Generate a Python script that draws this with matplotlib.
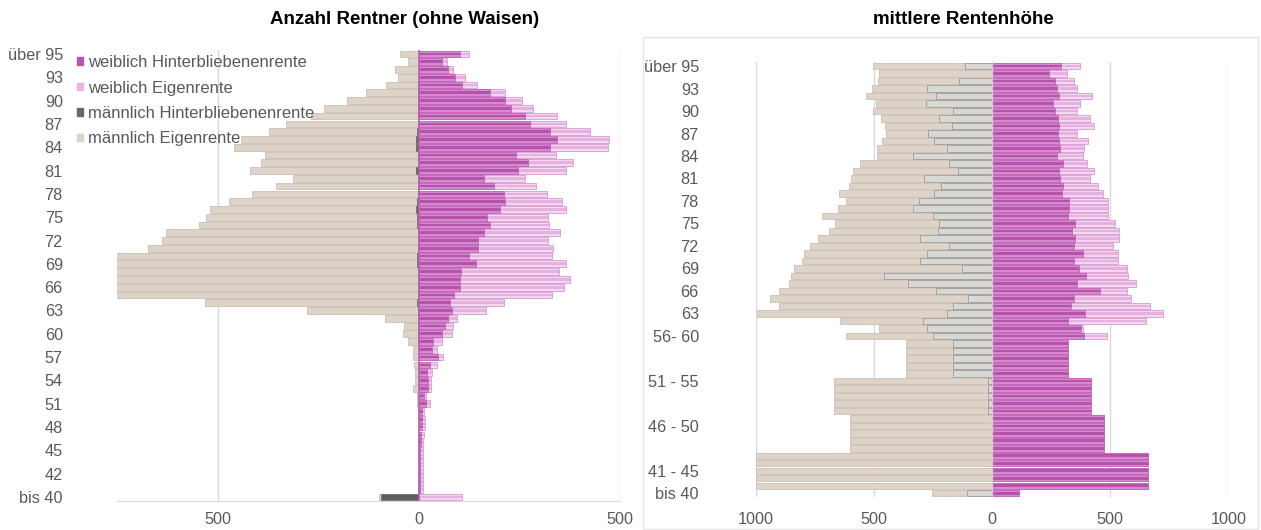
import numpy as np
import matplotlib.pyplot as plt
from matplotlib.patches import Patch, Rectangle

plt.rcParams['font.family'] = ['Liberation Sans', 'DejaVu Sans']

# Kategorien (von oben nach unten): über 95, 95 ... 40, bis 40  -> 58 Zeilen
N_CAT = 58
left_ticklabels = ['bis 40'] + [str(a) for a in range(42, 94, 3)] + ['über 95']
right_ticklabels = ['bis 40', '41 - 45', '', '46 - 50', '', '51 - 55', '',
                    '56- 60'] + [str(a) for a in range(63, 94, 3)] + ['über 95']

# ---- Anzahl Rentner (Werte von oben "über 95" nach unten "bis 40") ----
anz_m_eigen = [47, 27, 60, 52, 81, 131, 178, 235, 268, 331, 372, 442, 460, 381, 393,
               420, 312, 356, 414, 471, 520, 529, 545, 628, 639, 672, 800, 830, 860, 880,
               850, 820, 532, 277, 85, 37, 39, 26, 14, 14, 12, 10, 10, 14, 4, 4, 2, 1,
               1, 1, 1, 1, 1, 1, 1, 1, 1, 100]
anz_m_hinterbl = [0, 0, 0, 0, 1, 3, 3, 2, 2, 3, 5, 8, 8, 3, 3, 6, 3, 3, 3, 4, 8, 5, 4,
                  3, 3, 3, 4, 4, 3, 3, 3, 3, 4, 3, 2, 1, 1, 1, 0, 0, 0, 0, 0, 0, 0, 0,
                  0, 0, 0, 0, 0, 0, 0, 0, 0, 0, 0, 94]
anz_w_hinterbl = [102, 57, 72, 90, 107, 178, 215, 230, 265, 277, 327, 344, 327, 242, 272,
                  247, 161, 188, 211, 213, 201, 169, 178, 161, 147, 147, 125, 142, 105, 102,
                  102, 87, 77, 82, 73, 65, 58, 36, 34, 47, 29, 20, 23, 23, 13, 18, 8, 8,
                  8, 6, 5, 4, 4, 4, 4, 4, 4, 0]
anz_w_eigen = [125, 69, 86, 115, 144, 213, 257, 283, 344, 365, 425, 472, 469, 340, 383,
               365, 265, 292, 319, 355, 365, 322, 323, 351, 321, 333, 330, 367, 348, 375,
               361, 330, 211, 167, 94, 84, 82, 57, 44, 59, 44, 34, 31, 31, 18, 27, 13, 15,
               15, 13, 11, 10, 10, 10, 10, 10, 10, 107]

# ---- mittlere Rentenhöhe ----
hoehe_m_eigen = [502, 480, 484, 508, 533, 491, 502, 470, 451, 449, 465, 487, 487, 559, 587,
                 597, 604, 646, 618, 653, 719, 663, 691, 738, 770, 794, 804, 836, 850, 858,
                 903, 939, 900, 996, 643, 480, 618,
                 366, 366, 366, 366, 366, 668, 668, 668, 668, 668, 601, 601, 601, 601, 601,
                 1000, 1000, 1000, 1000, 1000, 253]
hoehe_m_hinterbl = [114, 0, 141, 276, 237, 279, 166, 226, 171, 272, 247, 192, 336, 181, 145,
                    289, 216, 247, 307, 336, 251, 226, 230, 305, 181, 276, 305, 127, 456, 357,
                    237, 103, 166, 190, 293, 276, 251,
                    166, 166, 166, 166, 166, 15, 15, 15, 15, 15, 0, 0, 0, 0, 0,
                    0, 0, 0, 0, 0, 104]
hoehe_w_hinterbl = [292, 243, 268, 274, 285, 260, 268, 278, 282, 278, 285, 288, 274, 299, 285,
                    288, 299, 296, 324, 327, 320, 353, 339, 353, 348, 386, 348, 367, 398, 360,
                    457, 348, 334, 395, 320, 377, 391,
                    322, 322, 322, 322, 322, 418, 418, 418, 418, 418, 473, 473, 473, 473, 473,
                    662, 662, 662, 662, 662, 114]
hoehe_w_eigen = [372, 317, 346, 360, 422, 372, 360, 415, 433, 360, 405, 388, 386, 401, 430,
                 415, 450, 471, 489, 489, 492, 522, 539, 539, 511, 532, 532, 570, 574, 609,
                 571, 588, 670, 722, 652, 386, 485,
                 322, 322, 322, 322, 322, 418, 418, 418, 418, 418, 473, 473, 473, 473, 473,
                 662, 662, 662, 662, 662, 0]

TXT = '#595959'
BEIGE, BEIGE_EDGE = '#DDD3C9', '#CFC5BB'
MAG, MAG_IN, MAG_EDGE = '#D48ACD', '#B752AC', '#C46BBB'
PINK, PINK_IN, PINK_EDGE = '#F3D6F0', '#E6B1E1', '#DCA4D6'
GRID = '#D9D9D9'


def bars(ax, vals, fill, edge, inner=None, sign=1, h=0.86):
    y = np.arange(N_CAT)
    w = sign * np.array(vals[::-1], dtype=float)
    ax.barh(y, w, height=h, color=fill, edgecolor=edge, linewidth=0.7)
    if inner is not None:
        ax.barh(y, w, height=h * 0.4, color=inner, linewidth=0)


fig = plt.figure(figsize=(12.61, 5.30), dpi=100)

# -------- links: Anzahl Rentner --------
ax1 = fig.add_axes([117 / 1261, (530 - 501) / 530, (620 - 117) / 1261, (501 - 50) / 530])
for gx in (-500, 0, 500):
    ax1.axvline(gx, color=GRID, lw=1, zorder=0)
bars(ax1, anz_m_eigen, BEIGE, BEIGE_EDGE, sign=-1)
bars(ax1, anz_m_hinterbl, '#615D5B', '#7A7674', sign=-1)
bars(ax1, anz_w_eigen, PINK, PINK_EDGE, inner=PINK_IN)
bars(ax1, anz_w_hinterbl, MAG, MAG_EDGE, inner=MAG_IN)
ax1.axvline(0, color='#B866AF', lw=1.2, zorder=3)
ax1.set_xlim(-750, 500)
ax1.set_ylim(-0.5, N_CAT - 0.5)
ax1.set_xticks([-500, 0, 500])
ax1.set_xticklabels(['500', '0', '500'])
ax1.set_yticks(range(0, N_CAT, 3))
ax1.set_yticklabels(left_ticklabels)
ax1.tick_params(length=0, labelsize=11.7, colors=TXT)
ax1.tick_params(axis='y', pad=39)
ax1.tick_params(axis='x', pad=8)
for s in ('top', 'right', 'left'):
    ax1.spines[s].set_visible(False)
ax1.spines['bottom'].set_color(GRID)

handles = [Patch(color='#B955AE'), Patch(color='#E8B5E3'),
           Patch(color='#6B6765'), Patch(color=BEIGE)]
labels = ['weiblich Hinterbliebenenrente', 'weiblich Eigenrente',
          'männlich Hinterbliebenenrente', 'männlich Eigenrente']
leg = ax1.legend(handles, labels, loc='upper left', bbox_to_anchor=(77 / 1261, 1 - 55 / 530),
                 bbox_transform=fig.transFigure, frameon=False, fontsize=12,
                 handlelength=0.35, handleheight=0.35, handletextpad=0.3,
                 labelspacing=0.63, borderpad=0, borderaxespad=0)
for t in leg.get_texts():
    t.set_color(TXT)
leg.set_zorder(10)

fig.text(405 / 1261, 1 - 20 / 530, 'Anzahl Rentner (ohne Waisen)', ha='center', va='center',
         fontsize=13.5, fontweight='bold', color='black')

# -------- rechts: mittlere Rentenhöhe --------
fig.patches.append(Rectangle((643 / 1261, 1 / 530), (1258 - 643) / 1261, (530 - 37 - 1) / 530,
                             transform=fig.transFigure, fill=False, edgecolor='#E4E4E4', lw=1))
ax2 = fig.add_axes([755.7 / 1261, (530 - 497) / 530, (1228.3 - 755.7) / 1261, (497 - 62.3) / 530])
for gx in (-1000, -500, 0, 500, 1000):
    ax2.axvline(gx, color=GRID, lw=1, zorder=0)
bars(ax2, hoehe_m_eigen, BEIGE, BEIGE_EDGE, sign=-1)
bars(ax2, hoehe_m_hinterbl, '#D9D8D4', '#A6A4A0', sign=-1)
bars(ax2, hoehe_w_eigen, PINK, PINK_EDGE, inner=PINK_IN)
bars(ax2, hoehe_w_hinterbl, MAG, MAG_EDGE, inner=MAG_IN)
ax2.axvline(0, color='#D6C6D4', lw=1, zorder=3)
ax2.set_xlim(-1000, 1000)
ax2.set_ylim(-0.5, N_CAT - 0.5)
ax2.set_xticks([-1000, -500, 0, 500, 1000])
ax2.set_xticklabels(['1000', '500', '0', '500', '1000'])
ax2.set_yticks(range(0, N_CAT, 3))
ax2.set_yticklabels(right_ticklabels)
ax2.tick_params(length=0, labelsize=11.7, colors=TXT)
ax2.tick_params(axis='y', pad=41)
ax2.tick_params(axis='x', pad=11)
for s in ax2.spines.values():
    s.set_visible(False)

fig.text(963 / 1261, 1 - 20 / 530, 'mittlere Rentenhöhe', ha='center', va='center',
         fontsize=13.5, fontweight='bold', color='black')

fig.savefig('out.png', dpi=100)
